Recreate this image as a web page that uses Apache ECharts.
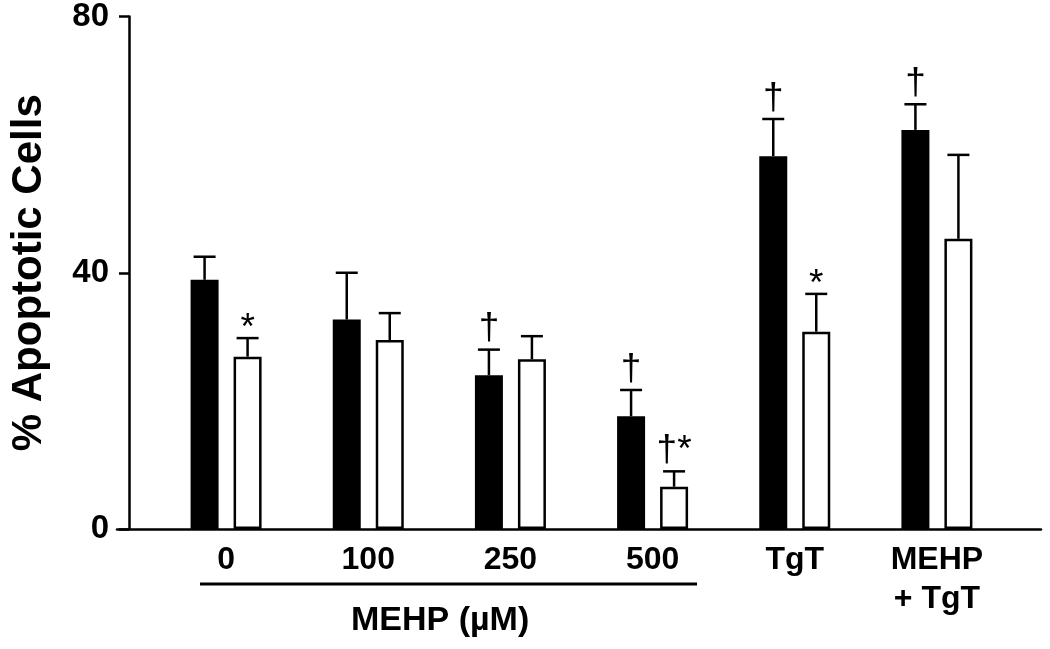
<!DOCTYPE html>
<html>
<head>
<meta charset="utf-8">
<script src="https://cdn.jsdelivr.net/npm/echarts@6/dist/echarts.min.js"></script>
<style>
html,body{margin:0;padding:0;background:#fff;}
#chart{width:1050px;height:649px;}
</style>
</head>
<body>
<div id="chart"></div>
<script>
// ---- data ----
const categories = ['0', '100', '250', '500', 'TgT', 'MEHP\n+ TgT'];
const blackMean = [38.9, 32.7, 24.0, 17.6, 58.2, 62.3];
const blackErrTop = [42.5, 40.0, 28.0, 21.7, 64.0, 66.3];
const whiteMean = [26.9, 29.5, 26.5, 6.6, 30.8, 45.3];
const whiteErrTop = [29.8, 33.7, 30.1, 9.0, 36.7, 58.4];
const blackMarks = ['', '', '†', '†', '†', '†'];
const whiteMarks = ['*', '', '', '†*', '*', ''];
const yTicks = [0, 40, 80];
const yName = '% Apoptotic Cells';
const groupLabel = 'MEHP (µM)';

// ---- styling constants ----
const FONT = 'Liberation Sans, Arial, sans-serif';
const BAR_W = 28;
const GAP_PX = 15;
const OFFSET = (BAR_W + GAP_PX) / 2;
const LW = 2.5;

function errSeries(means, tops, marks, sign) {
  return {
    type: 'custom',
    xAxisIndex: 0, yAxisIndex: 0,
    z: 10,
    data: means.map((m, i) => [i, m, tops[i]]),
    renderItem: function (params, api) {
      const i = params.dataIndex;
      const base = api.coord([api.value(0), api.value(1)]);
      const top = api.coord([api.value(0), api.value(2)]);
      const x = base[0] + sign * OFFSET;
      const capHalf = 11;
      const children = [
        { type: 'line', shape: { x1: x, y1: base[1], x2: x, y2: top[1] },
          style: { stroke: '#000', lineWidth: LW } },
        { type: 'line', shape: { x1: x - capHalf, y1: top[1], x2: x + capHalf, y2: top[1] },
          style: { stroke: '#000', lineWidth: LW } }
      ];
      const m = marks[i];
      if (m) {
        const onlyStar = m === '*';
        children.push({
          type: 'text',
          style: {
            text: m, x: x, y: onlyStar ? top[1] + 9 : top[1] - 2,
            align: 'center', verticalAlign: 'bottom',
            font: 'normal 37px ' + FONT, fill: '#000'
          }
        });
      }
      return { type: 'group', children: children };
    }
  };
}

const chart = echarts.init(document.getElementById('chart'), null, { renderer: 'canvas' });
chart.setOption({
  animation: false,
  backgroundColor: '#fff',
  grid: [
    { left: 153, right: 42, top: 15, bottom: 120 },
    { left: 117, right: 9, top: 15, bottom: 120 }
  ],
  xAxis: [
    {
      type: 'category', gridIndex: 0, data: categories,
      axisLine: { show: false }, axisTick: { show: false },
      axisLabel: { color: '#000', fontFamily: FONT, fontWeight: 'bold', fontSize: 32,
                   margin: 12, lineHeight: 39, interval: 0 }
    },
    {
      type: 'value', gridIndex: 1, min: 0, max: 1,
      axisLine: { show: true, lineStyle: { color: '#000', width: LW } },
      axisTick: { show: false }, axisLabel: { show: false }, splitLine: { show: false }
    }
  ],
  yAxis: [
    {
      type: 'value', gridIndex: 0, min: yTicks[0], max: yTicks[yTicks.length - 1], interval: 40,
      offset: 26,
      name: yName, nameLocation: 'middle', nameGap: 79,
      nameTextStyle: { color: '#000', fontFamily: FONT, fontWeight: 'bold', fontSize: 42 },
      axisLine: { show: true, lineStyle: { color: '#000', width: LW } },
      axisTick: { show: true, length: 10, lineStyle: { color: '#000', width: LW } },
      axisLabel: { color: '#000', fontFamily: FONT, fontWeight: 'bold', fontSize: 33, margin: 20 },
      splitLine: { show: false }
    },
    { type: 'value', gridIndex: 1, show: false, min: 0, max: 1 }
  ],
  series: [
    { type: 'bar', data: blackMean, barWidth: BAR_W, barGap: (GAP_PX / BAR_W * 100) + '%',
      itemStyle: { color: '#000' } },
    { type: 'bar', data: whiteMean, barWidth: BAR_W,
      itemStyle: { color: '#fff', borderColor: '#000', borderWidth: LW } },
    errSeries(blackMean, blackErrTop, blackMarks, -1),
    errSeries(whiteMean, whiteErrTop, whiteMarks, 1)
  ],
  graphic: [
    { type: 'line', shape: { x1: 200, y1: 584, x2: 697, y2: 584 },
      style: { stroke: '#000', lineWidth: 3 } },
    { type: 'text', left: 451 - 100, top: 604,
      style: { text: groupLabel, font: 'bold 34px ' + FONT, fill: '#000', width: 200, align: 'center' } }
  ]
});
</script>
</body>
</html>
